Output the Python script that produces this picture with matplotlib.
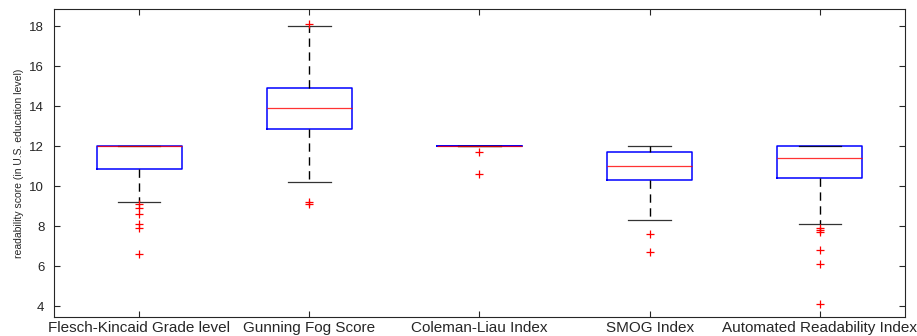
import numpy as np
import matplotlib.pyplot as plt

# readability scores per index (box statistics + outliers)
labels   = ["Flesch-Kincaid Grade level", "Gunning Fog Score", "Coleman-Liau Index",
            "SMOG Index", "Automated Readability Index"]
medians  = [12.0, 13.9, 12.0, 11.0, 11.4]
q1s      = [10.85, 12.85, 12.0, 10.3, 10.4]
q3s      = [12.0, 14.9, 12.0, 11.7, 12.0]
whis_lo  = [9.2, 10.2, 12.0, 8.3, 8.1]
whis_hi  = [12.0, 18.0, 12.0, 12.0, 12.0]
outliers = [[9.1, 8.9, 8.6, 8.1, 7.9, 6.6],
            [18.1, 9.2, 9.1],
            [11.7, 10.6],
            [7.6, 6.7],
            [7.9, 7.8, 7.7, 6.8, 6.1, 4.1]]
yticks = [4, 6, 8, 10, 12, 14, 16, 18]

plt.rcParams['font.family'] = ['Liberation Sans', 'DejaVu Sans']

stats = []
for i in range(len(labels)):
    stats.append(dict(label=labels[i], med=medians[i], q1=q1s[i], q3=q3s[i],
                      whislo=whis_lo[i], whishi=whis_hi[i], fliers=outliers[i]))

fig = plt.figure(figsize=(9.17, 3.36), dpi=100)
ax = fig.add_axes([0.0589, 0.0565, 0.928, 0.9167])

ax.bxp(stats, widths=0.5, capwidths=0.25, showfliers=True,
       boxprops=dict(color=(0, 0, 1), linewidth=1.1),
       medianprops=dict(color=(1, 0, 0), linewidth=0.9, alpha=0.8),
       whiskerprops=dict(color='k', linewidth=1.0, linestyle=(0, (6, 4))),
       capprops=dict(color='k', linewidth=0.9, alpha=0.8),
       flierprops=dict(marker='+', markeredgecolor='r', markersize=5.5, markeredgewidth=0.9,
                       linestyle='none'))

ax.set_xlim(0.5, 5.5)
ax.set_ylim(3.45, 18.85)
ax.set_yticks(yticks)
ax.set_xticks(np.arange(1, len(labels) + 1))
ax.set_xticklabels(labels, fontsize=11)
ax.tick_params(direction='in', top=True, right=True, length=4, width=0.8,
               color='0.15', labelcolor='0.15')
ax.tick_params(axis='y', labelsize=9.5, pad=7)
ax.tick_params(axis='x', pad=3)
for s in ax.spines.values():
    s.set_color('0.15')
    s.set_linewidth(0.8)

ax.set_ylabel("readability score (in U.S. education level)", fontsize=7.5,
              color='0.15', labelpad=4)

fig.savefig("out.png", dpi=100)
